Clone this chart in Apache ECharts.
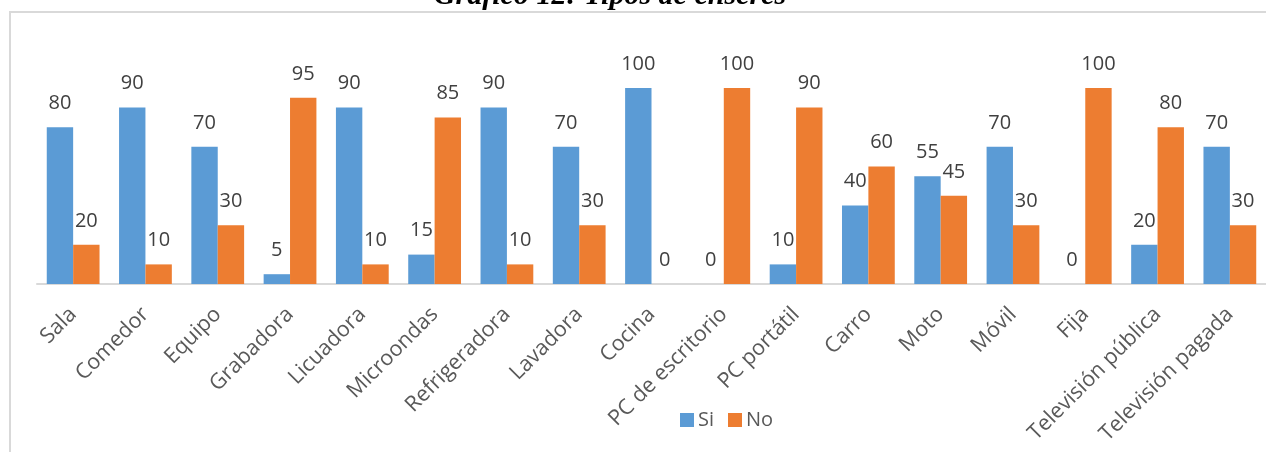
<!DOCTYPE html>
<html>
<head>
<meta charset="utf-8">
<script src="https://cdn.jsdelivr.net/npm/echarts@6/dist/echarts.min.js"></script>
<style>
  html, body { margin: 0; padding: 0; background: #fff; }
  #chart { width: 1266px; height: 452px; }
</style>
</head>
<body>
<div id="chart"></div>
<script>
const categories = ["Sala", "Comedor", "Equipo", "Grabadora", "Licuadora", "Microondas", "Refrigeradora", "Lavadora", "Cocina", "PC de escritorio", "PC portátil", "Carro", "Moto", "Móvil", "Fija", "Televisión pública", "Televisión pagada"];
const si = [80, 90, 70, 5, 90, 15, 90, 70, 100, 0, 10, 40, 55, 70, 0, 20, 70];
const no = [20, 10, 30, 95, 10, 85, 10, 30, 0, 100, 90, 60, 45, 30, 100, 80, 30];

const chart = echarts.init(document.getElementById("chart"));
const font = "'Open Sans', sans-serif";
const label = {
    show: true,
    position: "top",
    distance: 14,
    color: "#404040",
    fontFamily: font,
    fontSize: 20
};
chart.setOption({
    animation: false,
    graphic: [
        {
            type: "rect",
            shape: { x: 10, y: 12, width: 2000, height: 1000 },
            style: { fill: "none", stroke: "#d9d9d9", lineWidth: 2 }
        },
        {
            type: "text",
            x: 610,
            y: -4,
            style: {
                text: "Gráfico 12: Tipos de enseres",
                fontFamily: "'Liberation Serif', serif",
                fontWeight: "bold",
                fontStyle: "italic",
                fontSize: 30,
                fill: "#000",
                align: "center",
                verticalAlign: "middle"
            }
        }
    ],
    legend: {
        left: 675,
        top: 405,
        itemWidth: 14,
        itemHeight: 14,
        itemGap: 14,
        icon: "rect",
        textStyle: { color: "#595959", fontFamily: font, fontSize: 20, padding: [0, 0, 0, -1] },
        data: ["Si", "No"]
    },
    grid: { left: 37, right: 0, top: 48.8, bottom: 168 },
    xAxis: {
        type: "category",
        data: categories,
        axisLine: { lineStyle: { color: "#d9d9d9", width: 2 } },
        axisTick: { show: false },
        axisLabel: {
            rotate: 45,
            interval: 0,
            margin: 27,
            color: "#595959",
            fontFamily: font,
            fontSize: 21.5
        }
    },
    yAxis: { type: "value", min: 0, max: 120, show: false, splitLine: { show: false } },
    series: [
        {
            name: "Si",
            type: "bar",
            data: si,
            barGap: "0%",
            barCategoryGap: "27%",
            itemStyle: { color: "#5B9BD5" },
            label: label
        },
        {
            name: "No",
            type: "bar",
            data: no,
            itemStyle: { color: "#ED7D31" },
            label: label
        }
    ]
});
</script>
</body>
</html>
